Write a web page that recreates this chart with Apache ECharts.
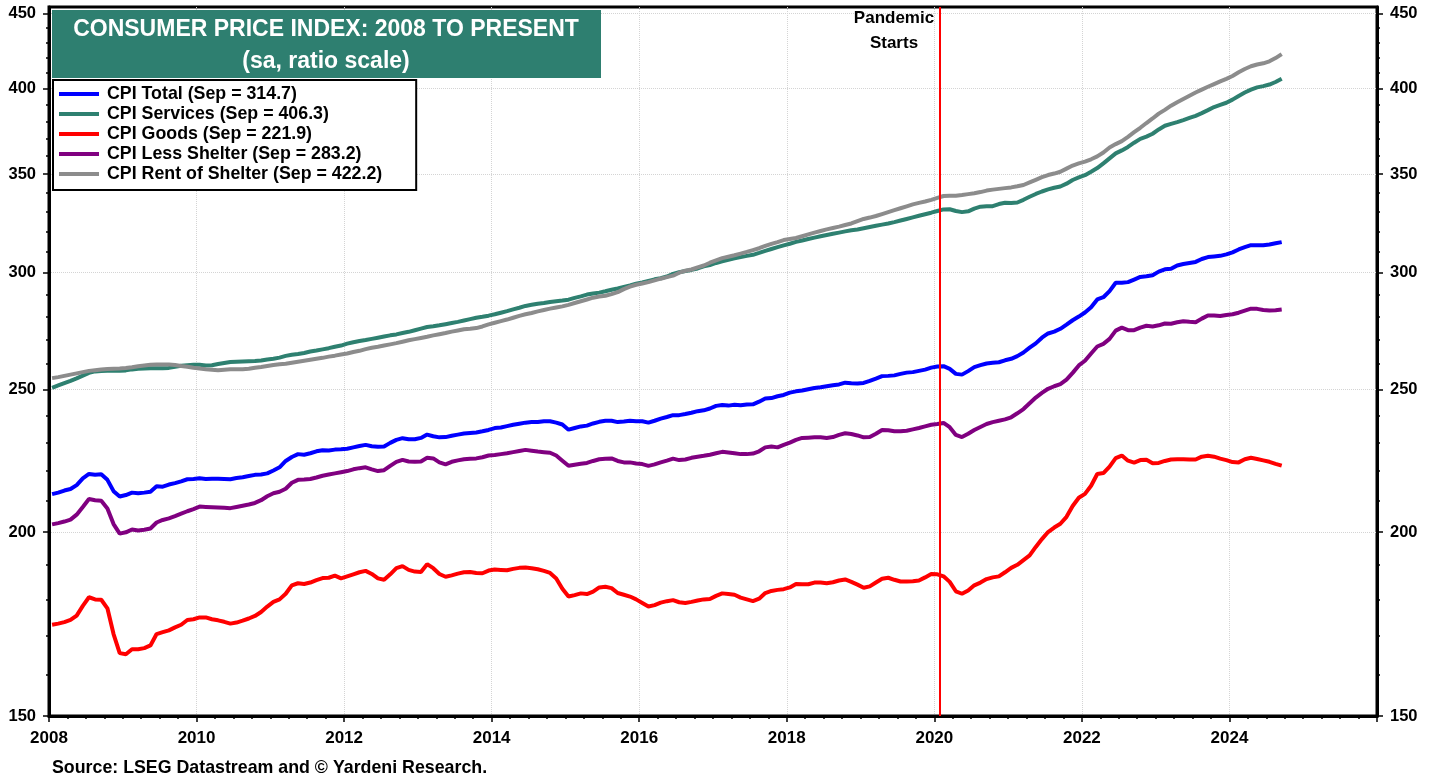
<!DOCTYPE html>
<html>
<head>
<meta charset="utf-8">
<title>Consumer Price Index: 2008 to Present</title>
<script src="https://cdn.jsdelivr.net/npm/echarts@6/dist/echarts.min.js"></script>
<style>
  html, body { margin: 0; padding: 0; background: #fff; }
  #chart { width: 1438px; height: 780px; }
</style>
</head>
<body>
<div id="chart"></div>
<script>
// monthly, seasonally adjusted, Jan 2008 .. Sep 2024
const START_YEAR = 2008

const cpiTotal = [
  212.2, 212.7, 213.4, 213.9, 215.2, 217.5, 219.0, 218.7, 218.9, 217.0, 213.2, 211.4,
  211.9, 212.7, 212.5, 212.7, 213.0, 214.8, 214.7, 215.4, 215.9, 216.5, 217.2, 217.3,
  217.5, 217.3, 217.4, 217.4, 217.3, 217.2, 217.6, 217.9, 218.3, 218.7, 218.8, 219.2,
  220.2, 221.3, 223.5, 224.9, 225.9, 225.7, 226.2, 226.9, 227.3, 227.2, 227.5, 227.6,
  227.8, 228.3, 228.8, 229.2, 228.7, 228.5, 228.6, 229.9, 231.0, 231.6, 231.2, 231.2,
  231.7, 232.9, 232.3, 231.9, 232.0, 232.5, 232.9, 233.3, 233.5, 233.7, 234.1, 234.6,
  235.3, 235.5, 236.0, 236.5, 236.9, 237.3, 237.5, 237.5, 237.8, 237.8, 237.3, 236.6,
  234.7, 235.3, 235.9, 236.2, 237.0, 237.6, 238.0, 238.0, 237.5, 237.7, 238.0, 237.8,
  237.8, 237.3, 238.0, 238.8, 239.4, 240.1, 240.1, 240.5, 241.0, 241.6, 241.9, 242.6,
  243.6, 243.9, 243.7, 244.0, 243.8, 244.1, 244.2, 245.2, 246.4, 246.6, 247.3, 247.8,
  248.7, 249.2, 249.5, 250.0, 250.5, 250.8, 251.2, 251.6, 251.9, 252.6, 252.4, 252.3,
  252.5, 253.3, 254.2, 255.2, 255.3, 255.5, 256.1, 256.6, 256.8, 257.3, 257.8, 258.6,
  259.1, 259.2, 258.1, 256.1, 255.8, 257.2, 258.8, 259.6, 260.3, 260.6, 260.8, 261.6,
  262.2, 263.3, 264.8, 266.8, 268.6, 271.0, 272.8, 273.6, 274.8, 276.6, 278.5, 280.1,
  281.9, 284.2, 287.7, 288.7, 291.5, 295.3, 295.3, 295.6, 296.8, 298.0, 298.3, 298.8,
  300.5, 301.6, 301.8, 303.4, 304.1, 304.6, 305.1, 306.5, 307.4, 307.7, 308.0, 308.7,
  309.7, 311.1, 312.2, 313.2, 313.1, 313.1, 313.5, 314.1, 314.7
]

const cpiServices = [
  250.6, 251.5, 252.4, 253.3, 254.3, 255.4, 256.5, 257.1, 257.3, 257.4, 257.4, 257.4,
  257.5, 257.9, 258.2, 258.3, 258.4, 258.4, 258.4, 258.5, 259.0, 259.4, 259.6, 259.8,
  259.8, 259.5, 259.6, 260.1, 260.5, 260.9, 261.0, 261.1, 261.2, 261.3, 261.5, 261.9,
  262.2, 262.7, 263.4, 263.9, 264.2, 264.6, 265.2, 265.6, 266.1, 266.6, 267.2, 267.7,
  268.5, 269.1, 269.6, 270.0, 270.5, 271.0, 271.5, 272.0, 272.4, 273.0, 273.5, 274.2,
  274.9, 275.6, 275.9, 276.3, 276.8, 277.3, 277.8, 278.4, 279.0, 279.6, 280.0, 280.5,
  281.1, 281.8, 282.5, 283.3, 284.0, 284.8, 285.3, 285.8, 286.1, 286.6, 286.9, 287.2,
  287.6, 288.4, 289.1, 289.9, 290.4, 290.8, 291.4, 292.1, 292.7, 293.4, 294.1, 294.9,
  295.5, 296.2, 296.9, 297.4, 298.2, 299.4, 300.2, 300.8, 301.3, 302.0, 303.0, 303.6,
  304.6, 305.4, 306.1, 306.8, 307.4, 308.0, 308.5, 309.4, 310.4, 311.3, 312.2, 313.1,
  313.9, 314.8, 315.5, 316.2, 316.9, 317.6, 318.2, 318.8, 319.4, 320.0, 320.6, 321.0,
  321.6, 322.2, 322.8, 323.4, 324.0, 324.7, 325.5, 326.3, 327.1, 327.9, 328.7, 329.5,
  330.4, 331.2, 331.3, 330.4, 329.8, 330.2, 331.6, 332.6, 332.8, 332.9, 334.0, 334.7,
  334.5, 334.8, 336.2, 337.8, 339.3, 340.6, 341.7, 342.6, 343.3, 344.8, 346.8, 348.2,
  349.4, 351.3, 353.3, 355.9, 358.7, 361.5, 363.2, 365.2, 367.6, 369.8, 371.1, 372.8,
  375.3, 377.5, 378.6, 379.6, 380.8, 382.1, 383.4, 385.0, 386.8, 388.7, 390.0, 391.3,
  393.2, 395.5, 397.6, 399.4, 400.8, 401.6, 402.6, 404.2, 406.3
]

const cpiGoods = [
  173.0, 173.3, 173.7, 174.3, 175.5, 178.2, 180.6, 180.0, 179.9, 177.5, 170.5, 165.5,
  165.2, 166.5, 166.5, 166.8, 167.5, 170.5, 171.0, 171.5, 172.3, 173.0, 174.3, 174.5,
  175.0, 175.0, 174.5, 174.2, 173.8, 173.3, 173.6, 174.1, 174.7, 175.4, 176.5, 178.0,
  179.3, 180.0, 181.6, 184.0, 184.6, 184.4, 184.8, 185.5, 186.1, 186.2, 186.8, 186.0,
  186.6, 187.2, 187.8, 188.2, 187.3, 186.0, 185.6, 187.2, 189.0, 189.6, 188.5, 188.0,
  187.9, 190.2, 189.0, 187.3, 186.5, 186.9, 187.4, 187.8, 187.9, 187.6, 187.5, 188.3,
  188.6, 188.5, 188.4, 188.8, 189.1, 189.2, 189.0, 188.7, 188.2, 187.6, 186.0, 183.0,
  180.8, 181.2, 181.7, 181.5, 182.2, 183.4, 183.6, 183.2, 181.8, 181.3, 180.8, 180.0,
  179.0, 178.0, 178.4, 179.1, 179.5, 179.8, 179.2, 179.0, 179.3, 179.7, 180.0, 180.1,
  181.0, 181.7, 181.5, 181.3, 180.5, 180.0, 179.5, 180.2, 181.8, 182.4, 182.7, 182.9,
  183.4, 184.4, 184.3, 184.3, 184.8, 184.8, 184.6, 184.9, 185.4, 185.7, 185.0, 184.2,
  183.3, 183.7, 184.8, 185.9, 186.2, 185.6, 185.1, 185.1, 185.2, 185.4, 186.3, 187.3,
  187.2, 186.6, 185.0, 182.3, 181.6, 182.5, 184.0, 184.8, 185.8, 186.3, 186.6, 187.8,
  189.1, 190.0, 191.4, 192.8, 195.4, 197.8, 200.0, 201.4, 202.6, 204.8, 208.3, 211.0,
  212.3, 215.0, 219.0, 219.3, 221.5, 224.5, 225.4, 223.6, 222.9, 223.8, 223.9, 222.7,
  222.8, 223.5, 224.0, 224.1, 224.1, 224.0, 224.0, 225.0, 225.3, 225.0, 224.3, 223.8,
  223.1, 223.0, 224.1, 224.6, 224.2, 223.7, 223.2, 222.5, 221.9
]

const cpiLessShelter = [
  202.4, 202.8, 203.3, 203.9, 205.5, 208.0, 210.6, 210.2, 210.0, 207.5, 202.5, 199.5,
  199.9, 200.8, 200.5, 200.7, 201.1, 203.0, 203.8, 204.3, 205.0, 205.8, 206.6, 207.3,
  208.1, 208.0, 207.9, 207.8, 207.7, 207.6, 208.0, 208.4, 208.8, 209.3, 210.2, 211.5,
  212.5, 213.0, 214.0, 216.0, 217.0, 217.1, 217.3, 217.8, 218.4, 218.8, 219.2, 219.6,
  220.0, 220.6, 221.0, 221.3, 220.6, 220.0, 220.3, 221.8, 223.2, 223.9, 223.3, 223.2,
  223.3, 224.6, 224.4, 223.0, 222.3, 223.2, 223.7, 224.1, 224.3, 224.4, 224.8, 225.4,
  225.6, 225.9, 226.2, 226.6, 227.0, 227.4, 227.1, 226.8, 226.6, 226.4, 225.4, 223.6,
  221.8, 222.2, 222.5, 222.8, 223.5, 224.1, 224.3, 224.4, 223.5, 223.0, 223.0, 222.6,
  222.4, 221.8, 222.3, 223.0, 223.6, 224.3, 223.8, 224.0, 224.6, 225.0, 225.3, 225.7,
  226.2, 226.7, 226.5, 226.2, 225.9, 225.9, 226.1, 226.9, 228.3, 228.6, 228.3, 229.2,
  230.0, 231.0, 231.7, 231.8, 231.9, 231.9, 231.7, 232.0, 232.8, 233.4, 233.1, 232.6,
  231.9, 232.0, 233.2, 234.6, 234.5, 234.1, 234.1, 234.3, 234.8, 235.3, 235.9, 236.5,
  236.8, 237.2, 235.6, 232.8, 232.0, 233.2, 234.6, 235.7, 236.8, 237.5, 238.0, 238.5,
  239.3, 240.8, 242.4, 244.6, 246.8, 248.6, 250.2, 251.2, 252.0, 253.8, 256.5, 259.5,
  261.4, 264.4, 267.3, 268.4, 270.5, 274.0, 275.3, 274.2, 274.2, 275.3, 276.1, 275.8,
  276.3, 277.1, 277.0, 277.6, 278.1, 277.8, 277.6, 279.2, 280.6, 280.6, 280.4, 280.8,
  281.1, 281.8, 282.7, 283.6, 283.5, 283.0, 282.8, 282.9, 283.2
]

const cpiRentOfShelter = [
  254.4, 254.8, 255.3, 255.8, 256.3, 256.8, 257.3, 257.6, 257.9, 258.1, 258.2, 258.3,
  258.5, 258.8, 259.2, 259.5, 259.8, 259.9, 259.9, 259.9, 259.7, 259.3, 259.0, 258.6,
  258.3, 258.0, 257.8, 257.6, 257.8, 258.0, 258.0, 258.0, 258.2, 258.6, 258.9, 259.3,
  259.7, 260.0, 260.2, 260.6, 261.0, 261.4, 261.8, 262.2, 262.6, 263.1, 263.5, 264.0,
  264.4, 265.0, 265.5, 266.2, 266.8, 267.2, 267.7, 268.2, 268.7, 269.3, 269.9, 270.4,
  270.9, 271.4, 272.0, 272.5, 273.0, 273.6, 274.1, 274.6, 274.8, 275.1, 275.8, 276.7,
  277.4, 278.1, 278.8, 279.6, 280.4, 281.1, 281.7, 282.4, 283.0, 283.6, 284.1, 284.6,
  285.3, 286.1, 286.9, 287.7, 288.5, 289.0, 289.4, 290.1, 291.0, 292.4, 293.5, 294.4,
  295.0, 295.6, 296.4, 297.2, 297.9, 298.6, 300.0, 300.9, 301.5, 302.5, 303.4, 304.7,
  305.8, 306.9, 307.6, 308.3, 309.1, 309.9, 310.8, 311.7, 312.8, 313.8, 314.7, 315.7,
  316.2, 316.7, 317.6, 318.5, 319.4, 320.2, 321.0, 321.7, 322.4, 323.2, 324.0, 325.2,
  326.3, 327.0, 327.8, 328.8, 329.8, 330.8, 331.8, 332.8, 333.8, 334.6, 335.3, 336.2,
  337.2, 338.2, 338.3, 338.3, 338.7, 339.2, 339.7, 340.3, 341.1, 341.6, 342.0, 342.4,
  342.8, 343.4, 344.1, 345.5, 346.9, 348.3, 349.5, 350.3, 351.3, 353.0, 354.7, 355.9,
  356.9, 358.2, 359.8, 362.0, 364.9, 366.8, 368.5, 371.0, 373.7, 376.3, 379.1, 381.8,
  384.7, 387.0, 389.5, 391.6, 393.6, 395.6, 397.6, 399.4, 401.2, 402.9, 404.6, 406.2,
  408.0, 410.4, 412.5, 414.3, 415.4, 416.2, 417.5, 419.6, 422.2
]

const seriesNames = [
  "CPI Total (Sep = 314.7)",
  "CPI Services (Sep = 406.3)",
  "CPI Goods (Sep = 221.9)",
  "CPI Less Shelter (Sep = 283.2)",
  "CPI Rent of Shelter (Sep = 422.2)"
]
const seriesValues = [cpiTotal, cpiServices, cpiGoods, cpiLessShelter, cpiRentOfShelter]
const seriesColors = ["#0000ff", "#2e8070", "#ff0000", "#800080", "#8c8c8c"]

const yTicks = [150, 200, 250, 300, 350, 400, 450]
const yMin = 150
const yMax = 454.5
const xMin = 2008
const xMax = 2026
const pandemicYear = 2020 + 1 / 12   // Feb 2020

const FONT = "'Liberation Sans', Arial, sans-serif"

// x position of month i, in decimal years, points sit mid-month
function monthX(i) {
  return START_YEAR + (i + 0.5) / 12
}

const yMinorTicks = []
for (let v = yMin + 10; v < 450; v += 10) {
  if (v % 50 !== 0) yMinorTicks.push(v)
}

const yLabelStyle = { color: "#000", fontWeight: "bold", fontSize: 16.5, fontFamily: FONT }
const xLabelStyle = { color: "#000", fontWeight: "bold", fontSize: 17, fontFamily: FONT }

function valueAxis(position, customTicks, tickLength, showLabels) {
  return {
    type: "log",
    min: yMin,
    max: yMax,
    position: position,
    axisLine: { show: showLabels, lineStyle: { color: "#000", width: 3 } },
    axisTick: { show: true, customValues: customTicks, length: tickLength, lineStyle: { color: "#000", width: 1.5 } },
    axisLabel: showLabels ? Object.assign({ customValues: customTicks, margin: 13 }, yLabelStyle) : { show: false },
    splitLine: { show: false }
  }
}

const leftAxis = valueAxis("left", yTicks, 6, true)
leftAxis.splitLine = { show: true, lineStyle: { color: "#d4d4d4", type: "dotted", width: 1 } }

const chart = echarts.init(document.getElementById("chart"))

chart.setOption({
  animation: false,
  backgroundColor: "#fff",
  grid: {
    left: 49, right: 61, top: 7, bottom: 64,
    show: true, borderColor: "#000", borderWidth: 3
  },
  xAxis: {
    type: "value",
    min: xMin,
    max: xMax,
    interval: 2,
    position: "bottom",
    axisLine: { lineStyle: { color: "#000", width: 3 } },
    axisTick: { length: 6, lineStyle: { color: "#000", width: 1.5 } },
    minorTick: { show: true, splitNumber: 8, length: 3, lineStyle: { color: "#000", width: 1.5 } },
    axisLabel: Object.assign({
      margin: 14,
      formatter: (v) => (v < xMax ? String(v) : "")
    }, xLabelStyle),
    splitLine: { show: true, lineStyle: { color: "#d4d4d4", type: "dotted", width: 1 } }
  },
  yAxis: [
    leftAxis,
    valueAxis("left", yMinorTicks, 3, false),
    valueAxis("right", yTicks, 6, true),
    valueAxis("right", yMinorTicks, 3, false)
  ],
  legend: {
    data: seriesNames,
    orient: "vertical",
    left: 53,
    top: 80,
    padding: [4, 34, 6, 6],
    itemGap: 0,
    itemWidth: 40,
    itemHeight: 4,
    icon: "rect",
    backgroundColor: "#fff",
    borderColor: "#000",
    borderWidth: 2,
    z: 10,
    selectedMode: false,
    formatter: (name) => "{t|" + name + "}",
    textStyle: {
      color: "#000",
      fontWeight: "bold",
      fontSize: 17.8,
      fontFamily: FONT,
      lineHeight: 20,
      rich: { t: { padding: [0, 0, 0, 3], fontWeight: "bold", fontSize: 17.8, fontFamily: FONT, lineHeight: 20, color: "#000" } }
    }
  },
  series: seriesNames.map((name, k) => {
    const s = {
      name: name,
      type: "line",
      xAxisIndex: 0,
      yAxisIndex: 0,
      showSymbol: false,
      symbol: "none",
      color: seriesColors[k],
      lineStyle: { color: seriesColors[k], width: 4 },
      data: seriesValues[k].map((v, i) => [monthX(i), v])
    }
    if (k === seriesNames.length - 1) {
      s.markLine = {
        silent: true,
        symbol: "none",
        label: { show: false },
        lineStyle: { color: "#ff0000", width: 2, type: "solid" },
        data: [{ xAxis: pandemicYear }]
      }
    }
    return s
  }),
  graphic: [
    {
      type: "rect",
      left: 52, top: 10, z: 20,
      shape: { width: 549, height: 68 },
      style: { fill: "#2e7f70" }
    },
    {
      type: "text",
      x: 326, y: 30, z: 21,
      style: {
        text: "CONSUMER PRICE INDEX: 2008 TO PRESENT",
        align: "center", verticalAlign: "middle",
        fill: "#fff", font: "bold 23px " + FONT
      }
    },
    {
      type: "text",
      x: 326, y: 62, z: 21,
      style: {
        text: "(sa, ratio scale)",
        align: "center", verticalAlign: "middle",
        fill: "#fff", font: "bold 23px " + FONT
      }
    },
    {
      type: "text",
      x: 894, y: 18, z: 21,
      style: {
        text: "Pandemic",
        align: "center", verticalAlign: "middle",
        fill: "#000", font: "bold 17px " + FONT
      }
    },
    {
      type: "text",
      x: 894, y: 43, z: 21,
      style: {
        text: "Starts",
        align: "center", verticalAlign: "middle",
        fill: "#000", font: "bold 17px " + FONT
      }
    },
    {
      type: "text",
      x: 52, y: 768, z: 21,
      style: {
        text: "Source: LSEG Datastream and \u00a9 Yardeni Research.",
        align: "left", verticalAlign: "middle",
        fill: "#000", font: "bold 17.8px " + FONT
      }
    }
  ]
})
</script>
</body>
</html>
